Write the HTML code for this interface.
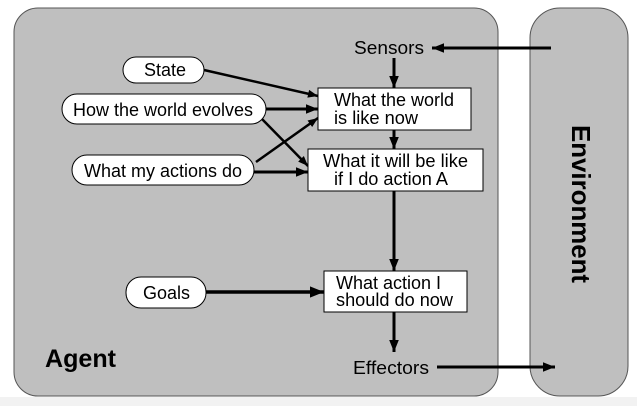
<!DOCTYPE html>
<html><head><style>body{margin:0;background:#fff}svg{display:block}</style></head><body>
<svg width="637" height="406" viewBox="0 0 637 406" xmlns="http://www.w3.org/2000/svg" font-family="Liberation Sans, sans-serif">
<defs><marker id="a" viewBox="0 0 10 10" refX="10" refY="5" markerWidth="6" markerHeight="4" orient="auto" markerUnits="strokeWidth"><path d="M0,1 L10,5 L0,9 z" fill="#000"/></marker></defs>
<rect x="0" y="397" width="637" height="9" fill="#f2f2f2"/>
<rect x="14" y="8" width="484" height="388" rx="24" fill="#bfbfbf" stroke="#555" stroke-width="1"/>
<rect x="530" y="8" width="98" height="388" rx="30" fill="#bfbfbf" stroke="#555" stroke-width="1"/>
<g stroke="#000" stroke-width="3" fill="none">
<line x1="551" y1="48" x2="432" y2="48" marker-end="url(#a)"/>
<line x1="394" y1="58" x2="394" y2="88" marker-end="url(#a)"/>
<line x1="394" y1="130" x2="394" y2="149" marker-end="url(#a)"/>
<line x1="394" y1="191" x2="394" y2="271" marker-end="url(#a)"/>
<line x1="394" y1="312" x2="394" y2="352" marker-end="url(#a)"/>
<line x1="437" y1="367" x2="555" y2="367" marker-end="url(#a)"/>
<line x1="204" y1="70" x2="318" y2="96" stroke-width="2.5" marker-end="url(#a)"/>
<line x1="266" y1="109" x2="318" y2="109" marker-end="url(#a)"/>
<line x1="261" y1="118" x2="308" y2="166" stroke-width="2.5" marker-end="url(#a)"/>
<line x1="254" y1="172" x2="308" y2="172" marker-end="url(#a)"/>
<line x1="256" y1="162" x2="318" y2="118" stroke-width="2.5" marker-end="url(#a)"/>
<line x1="206" y1="292" x2="324" y2="292" stroke-width="3.5" marker-end="url(#a)"/>
</g>
<g fill="#fff" stroke="#000" stroke-width="1">
<rect x="123" y="57" width="81" height="26" rx="13"/>
<rect x="62" y="94" width="204" height="30" rx="15"/>
<rect x="72" y="155" width="182" height="30" rx="15"/>
<rect x="126" y="277" width="80" height="31" rx="15"/>
<rect x="318" y="88" width="153" height="42"/>
<rect x="308" y="149" width="175" height="42"/>
<rect x="324" y="271" width="143" height="41"/>
</g>
<g font-size="18" fill="#000" lengthAdjust="spacingAndGlyphs">
<text x="144" y="76" textLength="42" lengthAdjust="spacingAndGlyphs">State</text>
<text x="73" y="116" textLength="180" lengthAdjust="spacingAndGlyphs">How the world evolves</text>
<text x="84" y="177" textLength="158" lengthAdjust="spacingAndGlyphs">What my actions do</text>
<text x="143" y="299" textLength="47" lengthAdjust="spacingAndGlyphs">Goals</text>
<text x="334" y="106" textLength="120" lengthAdjust="spacingAndGlyphs">What the world</text>
<text x="334" y="124" textLength="84" lengthAdjust="spacingAndGlyphs">is like now</text>
<text x="323" y="167" textLength="145" lengthAdjust="spacingAndGlyphs">What it will be like</text>
<text x="334" y="185" textLength="114" lengthAdjust="spacingAndGlyphs">if I do action A</text>
<text x="336" y="289" textLength="105" lengthAdjust="spacingAndGlyphs">What action I</text>
<text x="336" y="306" textLength="117" lengthAdjust="spacingAndGlyphs">should do now</text>
<text x="354" y="54" textLength="70" lengthAdjust="spacingAndGlyphs">Sensors</text>
<text x="353" y="374" textLength="76" lengthAdjust="spacingAndGlyphs">Effectors</text>
</g>
<text x="45" y="367" font-size="25" font-weight="bold" textLength="71" lengthAdjust="spacingAndGlyphs">Agent</text>
<text transform="translate(572,204) rotate(90)" font-size="26" font-weight="bold" text-anchor="middle" textLength="158" lengthAdjust="spacingAndGlyphs">Environment</text>
</svg>
</body></html>
